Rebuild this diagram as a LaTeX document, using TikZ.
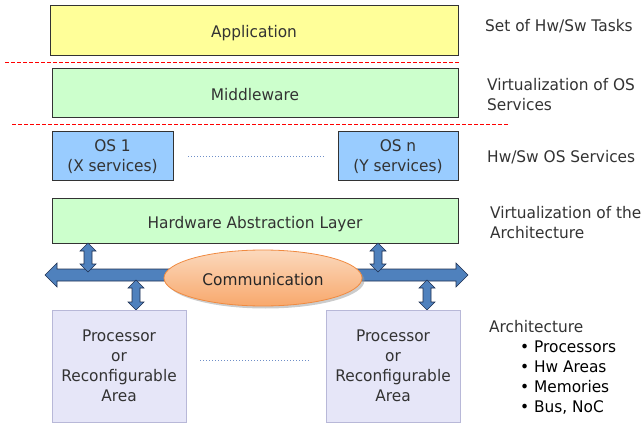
\documentclass[tikz,border=0pt]{standalone}
\usepackage{fontspec}
\setmainfont{DejaVu Sans}[FakeStretch=0.96]
\usetikzlibrary{shadows,shapes.geometric}
\definecolor{txt}{HTML}{333333}
\definecolor{appfill}{HTML}{FFFF99}
\definecolor{greenfill}{HTML}{CCFFCC}
\definecolor{osfill}{HTML}{99CCFF}
\definecolor{procfill}{HTML}{E6E6F8}
\definecolor{procdraw}{HTML}{B8B8D8}
\definecolor{busfill}{HTML}{4F81BD}
\definecolor{busdraw}{HTML}{1F3050}
\definecolor{orgtop}{HTML}{FBD9BD}
\definecolor{orgbot}{HTML}{F8A86C}
\definecolor{orgdraw}{HTML}{F08A40}
\definecolor{dotblue}{HTML}{6F8FC8}
\tikzset{
  layer/.style={draw=black!80, line width=0.8pt, font=\fontsize{16}{20}\selectfont, text=txt, inner sep=0pt},
  oneline/.style={text height=15pt, text depth=0pt},
  osbox/.style={layer, fill=osfill, minimum height=49, text height=13pt, text depth=0pt},
  procbox/.style={draw=procdraw, fill=procfill, line width=0.6pt, font=\fontsize{16}{20}\selectfont, text=txt, align=center, inner sep=0pt},
  sep/.style={red, dashed, line width=0.6pt, dash pattern=on 4pt off 2pt},
  dots/.style={dotblue, dotted, line width=1pt},
  side/.style={anchor=west, font=\fontsize{16}{20}\selectfont, text=txt, align=left, inner sep=0pt},
  arrowshape/.style={fill=busfill, draw=busdraw, line width=0.6pt}
}
\newcommand{\vdarr}[3]{% x, ytop, ybottom
  \filldraw[arrowshape] (#1-4,#2+8) -- (#1-8,#2+8) -- (#1,#2) -- (#1+8,#2+8) -- (#1+4,#2+8)
    -- (#1+4,#3-8) -- (#1+8,#3-8) -- (#1,#3) -- (#1-8,#3-8) -- (#1-4,#3-8) -- cycle;}
\newcommand{\twolines}[2]{\begin{tabular}{@{}c@{}}#1\\#2\end{tabular}}
\begin{document}
\begin{tikzpicture}[x=1pt,y=-1pt]
\useasboundingbox (0,0) rectangle (641,423);
% layers
\node[layer, oneline, fill=appfill, minimum width=408, minimum height=50] (app) at (254,30) {Application};
\draw[sep] (5,62) -- (460,62);
\node[layer, oneline, fill=greenfill, minimum width=406, minimum height=49] (mw) at (255,92.5) {Middleware};
\draw[sep] (12,124) -- (508,124);
\node[osbox, minimum width=121] (os1) at (112.5,155.5) {\twolines{OS 1}{(X services)}};
\node[osbox, minimum width=120] (osn) at (398,155.5) {\twolines{OS n}{(Y services)}};
\draw[dots] (188,156) -- (325,156);
\node[layer, oneline, fill=greenfill, minimum width=406, minimum height=45] (hal) at (255,220.5) {Hardware Abstraction Layer};
% bus
\filldraw[arrowshape] (45,275) -- (57,263) -- (57,269) -- (456,269) -- (456,263) -- (468,275)
  -- (456,287) -- (456,281) -- (57,281) -- (57,287) -- cycle;
% vertical arrows
\vdarr{88}{243}{272}
\vdarr{378}{243}{272}
\vdarr{136}{280}{310}
\vdarr{427}{280}{310}
% communication
\node[ellipse, draw=orgdraw, line width=0.8pt, top color=orgtop, bottom color=orgbot, minimum width=198, minimum height=56, inner sep=0pt, font=\fontsize{16}{20}\selectfont, text=black!85, text height=14pt, text depth=0pt, drop shadow={shadow xshift=2.5pt, shadow yshift=-2.5pt, fill=black!40}] (comm) at (263,278) {Communication};
% processors
\node[procbox, minimum width=134, minimum height=112] (p1) at (119,366) {Processor\\or\\Reconfigurable\\Area};
\node[procbox, minimum width=134, minimum height=112] (pn) at (393,366) {Processor\\or\\Reconfigurable\\Area};
\draw[dots] (200,360) -- (310,360);
% side labels
\node[side] (l1) at (485,26.5) {Set of Hw/Sw Tasks};
\node[side] (l2) at (487,95) {Virtualization of OS\\Services};
\node[side] (l3) at (487,157.5) {Hw/Sw OS Services};
\node[side] (l4) at (490,223) {Virtualization of the\\Architecture};
\node[side] (l5) at (489,326.5) {Architecture};
\node[side, text=black] (l6) at (520,377.5) {• Processors\\• Hw Areas\\• Memories\\• Bus, NoC};
\end{tikzpicture}
\end{document}
